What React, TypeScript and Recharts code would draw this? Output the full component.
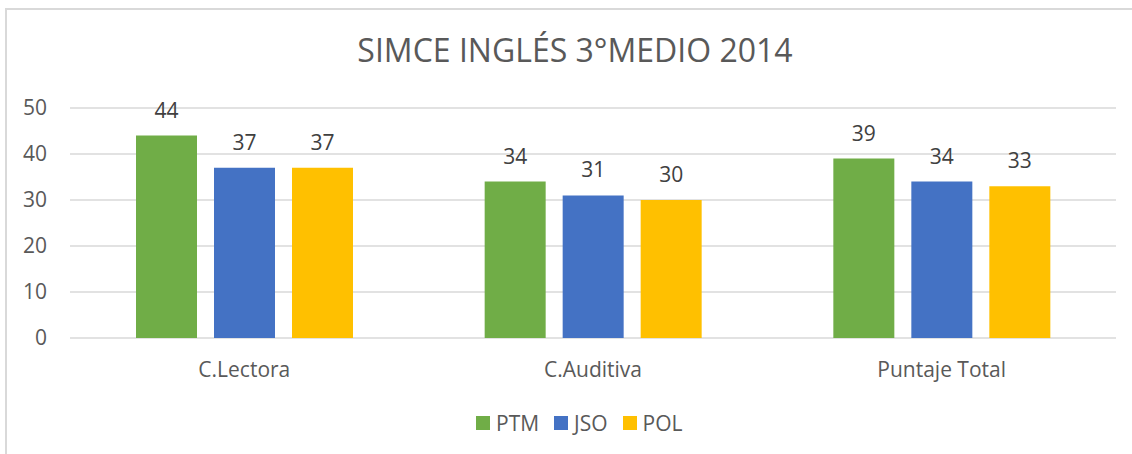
import { BarChart, Bar, XAxis, YAxis, CartesianGrid, LabelList } from "recharts"

const categories = ["C.Lectora", "C.Auditiva", "Puntaje Total"]
const ptm = [44, 34, 39]
const jso = [37, 31, 34]
const pol = [37, 30, 33]
const yTicks = [0, 10, 20, 30, 40, 50]

const seriesInfo = [
  { key: "PTM", color: "#70AD47" },
  { key: "JSO", color: "#4472C4" },
  { key: "POL", color: "#FFC000" },
]

const data = categories.map((name, i) => ({
  name,
  PTM: ptm[i],
  JSO: jso[i],
  POL: pol[i],
}))

const font = "'Open Sans', sans-serif"

export default function App() {
  return (
    <div
      style={{
        position: "fixed",
        left: 0,
        top: 0,
        width: 1132,
        height: 454,
        overflow: "hidden",
        background: "#fff",
        fontFamily: font,
      }}
    >
      {/* chart frame, cut off at right and bottom like the source */}
      <div
        style={{
          position: "absolute",
          left: 5,
          top: 8,
          width: 1150,
          height: 470,
          border: "2px solid #d9d9d9",
        }}
      />
      <div
        style={{
          position: "absolute",
          left: 0,
          width: 1150,
          top: 27,
          textAlign: "center",
          fontSize: 32,
          color: "#595959",
          lineHeight: "46px",
        }}
      >
        SIMCE INGLÉS 3°MEDIO 2014
      </div>
      <div style={{ position: "absolute", left: 0, top: 0 }}>
        <BarChart
          width={1132}
          height={454}
          data={data}
          margin={{ top: 108, right: 16, bottom: 86, left: 0 }}
          barSize={61}
          barGap={17}
        >
          <CartesianGrid vertical={false} stroke="#d9d9d9" strokeWidth={1.5} />
          <XAxis
            dataKey="name"
            axisLine={false}
            tickLine={false}
            tickSize={0}
            tickMargin={24}
            height={30}
            tick={{ fill: "#595959", fontSize: 21, fontFamily: font }}
          />
          <YAxis
            width={70}
            domain={[0, 50]}
            ticks={yTicks}
            axisLine={false}
            tickLine={false}
            tickSize={0}
            tickMargin={23}
            tick={{ fill: "#595959", fontSize: 21, fontFamily: font }}
          />
          {seriesInfo.map((s) => (
            <Bar key={s.key} dataKey={s.key} fill={s.color} isAnimationActive={false}>
              <LabelList
                dataKey={s.key}
                position="top"
                offset={18}
                fill="#404040"
                fontSize={21}
                fontFamily={font}
              />
            </Bar>
          ))}
        </BarChart>
      </div>
      <div
        style={{
          position: "absolute",
          left: 476,
          top: 410,
          display: "flex",
          alignItems: "center",
          fontSize: 21,
          color: "#595959",
          lineHeight: "26px",
        }}
      >
        {seriesInfo.map((s) => (
          <div key={s.key} style={{ display: "flex", alignItems: "center", marginRight: 15 }}>
            <span style={{ width: 14, height: 14, background: s.color, marginRight: 6 }} />
            <span>{s.key}</span>
          </div>
        ))}
      </div>
    </div>
  )
}
